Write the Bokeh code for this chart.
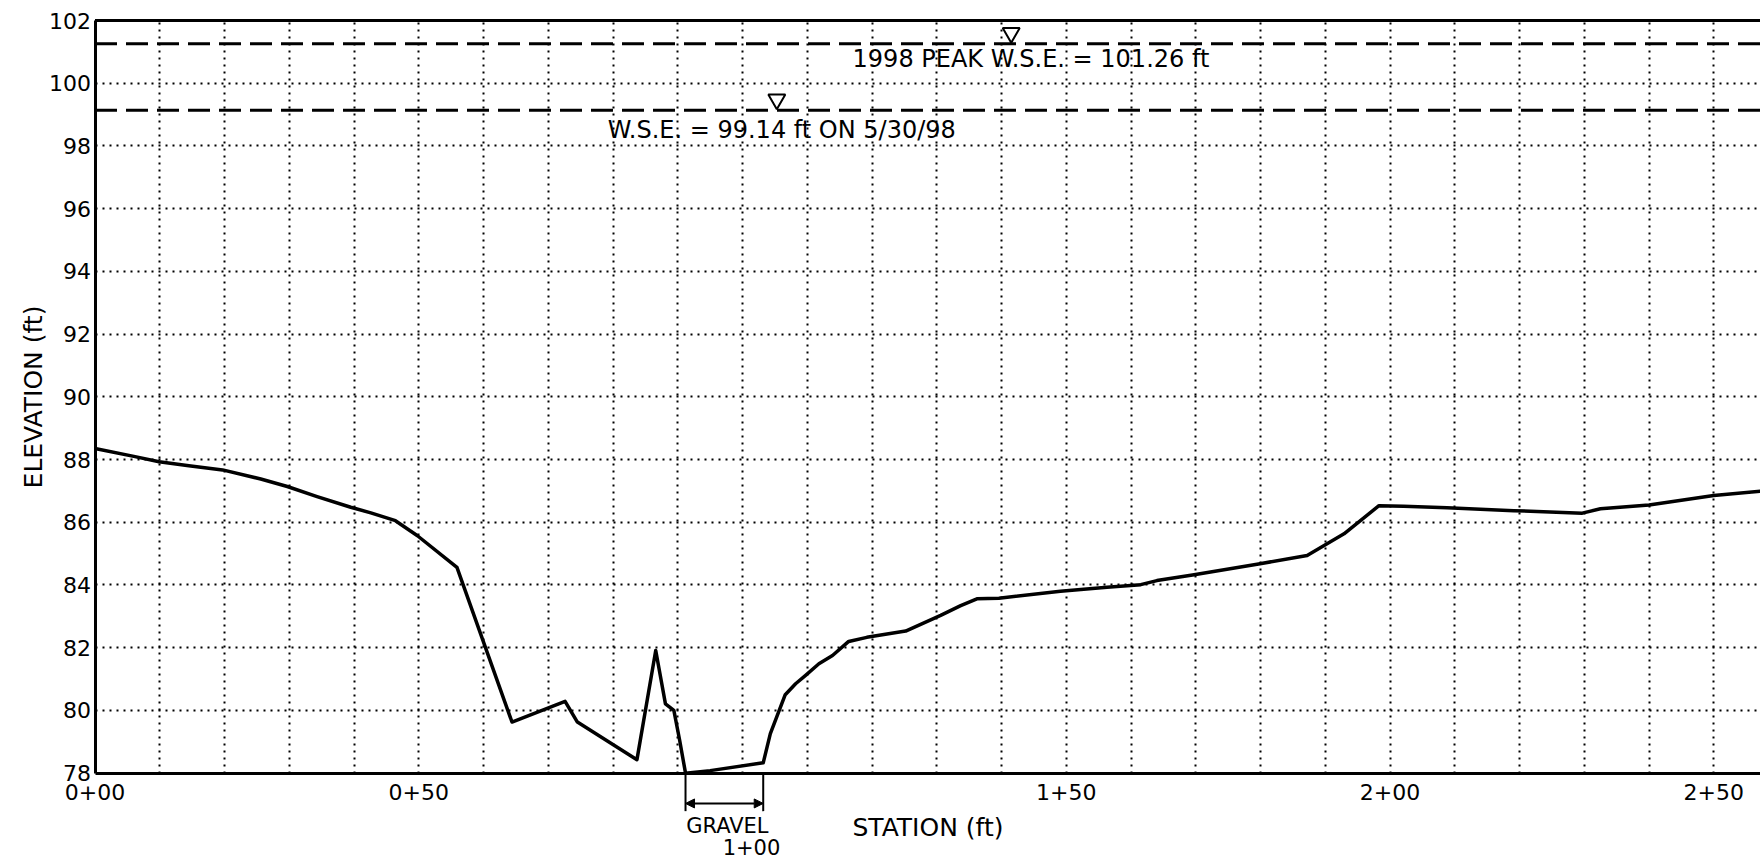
from bokeh.plotting import figure
from bokeh.models import Label, Arrow, NormalHead, FixedTicker, Range1d, BoxAnnotation
from bokeh.embed import file_html
from bokeh.resources import INLINE

# ---------------- data ----------------
station = [0, 6, 9.9, 14.5, 19.7, 25.6, 29.7, 34.3, 39.5, 42.6, 46.4, 49.8, 55.9,
           64.4, 72.6, 74.5, 83.7, 86.6, 88.1, 89.4, 90.3, 91.2, 95.0, 103.2,
           104.3, 106.6, 108.2, 109.7, 111.8, 113.9, 116.4, 119.2, 125.2, 130.6,
           133.7, 136.2, 139.6, 149.1, 156.3, 161.5, 164.0, 169.5, 179.7, 187.2,
           192.9, 198.3, 202.1, 208.8, 219.1, 229.7, 232.5, 240.0, 250.0, 257.2]
elevation = [88.35, 88.1, 87.93, 87.8, 87.67, 87.38, 87.14, 86.82, 86.48, 86.3, 86.05, 85.57, 84.56,
             79.63, 80.29, 79.63, 78.43, 81.91, 80.21, 80.0, 79.04, 78.0, 78.08, 78.33,
             79.26, 80.5, 80.85, 81.11, 81.49, 81.75, 82.2, 82.33, 82.53, 83.03,
             83.34, 83.56, 83.58, 83.8, 83.93, 84.01, 84.14, 84.32, 84.67, 84.94,
             85.63, 86.53, 86.51, 86.46, 86.37, 86.29, 86.43, 86.55, 86.85, 86.99]

wse_peak = 101.26
wse_obs = 99.14
peak_text = "1998 PEAK W.S.E. = 101.26 ft"
obs_text = "W.S.E. = 99.14 ft ON 5/30/98"
peak_marker_station = 141.5
obs_marker_station = 105.3
peak_text_station = 117.0
obs_text_station = 79.2

gravel_start = 91.2
gravel_end = 103.2
gravel_text = "GRAVEL"

x_ticks = [0, 50, 100, 150, 200, 250]
x_tick_labels = ["0+00", "0+50", "1+00", "1+50", "2+00", "2+50"]
x_grid = [10, 20, 30, 40, 50, 60, 70, 80, 90, 100, 110, 120, 130, 140, 150,
          160, 170, 180, 190, 200, 210, 220, 230, 240, 250]
y_ticks = [78, 80, 82, 84, 86, 88, 90, 92, 94, 96, 98, 100, 102]
y_grid = [80, 82, 84, 86, 88, 90, 92, 94, 96, 98, 100]

# ---------------- geometry ----------------
W, H = 1760, 860
AXIS_LEFT_PX = 94.5        # where station 0 sits
TOP_PX = 20                # where elevation 102 sits
PX_PER_FT_X = 6.475
PX_PER_FT_Y = 31.36
X_MIN, X_MAX = 0, (W - AXIS_LEFT_PX) / PX_PER_FT_X
Y_MIN, Y_MAX = 78, 102
X_VIEW_MIN = -AXIS_LEFT_PX / PX_PER_FT_X
Y_VIEW_MAX = Y_MAX + TOP_PX / PX_PER_FT_Y
Y_VIEW_MIN = Y_MAX - (H - TOP_PX) / PX_PER_FT_Y

FONT = "DejaVu Sans"

p = figure(width=W, height=H,
           x_range=Range1d(X_VIEW_MIN, X_MAX), y_range=Range1d(Y_VIEW_MIN, Y_VIEW_MAX),
           output_backend="svg", toolbar_location=None,
           min_border_left=0, min_border_right=0, min_border_top=0, min_border_bottom=0)
p.outline_line_color = None
p.background_fill_color = "white"
p.border_fill_color = "white"

# axes (placed at station 0 / elevation 78 so the texts around them are not clipped)
p.xaxis.fixed_location = Y_MIN
p.xaxis.bounds = (X_MIN, X_MAX)
p.xaxis.ticker = FixedTicker(ticks=x_ticks)
overrides = {t: l for t, l in zip(x_ticks, x_tick_labels)}
overrides[100] = ""
p.xaxis.major_label_overrides = overrides
p.yaxis.fixed_location = X_MIN
p.yaxis.bounds = (Y_MIN, Y_MAX)
p.yaxis.ticker = FixedTicker(ticks=y_ticks)

for ax in (p.xaxis[0], p.yaxis[0]):
    ax.axis_line_width = 3
    ax.axis_line_color = "black"
    ax.major_tick_in = 0
    ax.major_tick_out = 0
    ax.minor_tick_in = 0
    ax.minor_tick_out = 0
    ax.major_label_text_font = FONT
    ax.major_label_text_font_size = "22px"
    ax.major_label_text_color = "black"
    ax.axis_label_text_font = FONT
    ax.axis_label_text_font_size = "25px"
    ax.axis_label_text_font_style = "normal"
    ax.axis_label_text_color = "black"

p.xaxis.axis_label = "STATION (ft)"
p.yaxis.axis_label = "ELEVATION (ft)"
p.xaxis.major_label_standoff = 11
p.xaxis.axis_label_standoff = 9
p.yaxis.major_label_standoff = 4
p.yaxis.axis_label_standoff = -1

# grids
p.xgrid.ticker = FixedTicker(ticks=x_grid)
p.ygrid.ticker = FixedTicker(ticks=y_grid)
for g in (p.xgrid[0], p.ygrid[0]):
    g.grid_line_color = "black"
    g.grid_line_alpha = 1.0
    g.grid_line_width = 2
    g.grid_line_dash = "2 5"
if "cross_bounds" in p.xgrid[0].properties():
    p.xgrid[0].cross_bounds = (Y_MIN, Y_MAX)
    p.ygrid[0].cross_bounds = (X_MIN, X_MAX)
else:
    p.add_layout(BoxAnnotation(top=Y_MIN, fill_color="white", fill_alpha=1.0,
                               line_color=None, level="underlay"))
    p.add_layout(BoxAnnotation(right=X_MIN, fill_color="white", fill_alpha=1.0,
                               line_color=None, level="underlay"))
    p.add_layout(BoxAnnotation(bottom=Y_MAX, fill_color="white", fill_alpha=1.0,
                               line_color=None, level="underlay"))

# top border of the chart area
p.segment(x0=[X_MIN], y0=[Y_MAX], x1=[X_MAX], y1=[Y_MAX], line_color="black", line_width=3)

# water surface lines
p.segment(x0=[X_MIN, X_MIN], y0=[wse_peak, wse_obs], x1=[X_MAX, X_MAX], y1=[wse_peak, wse_obs],
          line_color="black", line_width=3, line_dash="22 9")

# water surface symbols
tri_off = 10.8 / PX_PER_FT_Y
p.scatter(x=[peak_marker_station, obs_marker_station],
          y=[wse_peak + tri_off, wse_obs + tri_off],
          marker="inverted_triangle", size=17, fill_color="white",
          line_color="black", line_width=2)

p.add_layout(Label(x=peak_text_station, y=wse_peak, y_offset=-15, text=peak_text,
                   text_align="left", text_baseline="middle", text_font=FONT,
                   text_font_size="24px", text_color="black"))
p.add_layout(Label(x=obs_text_station, y=wse_obs, y_offset=-19.5, text=obs_text,
                   text_align="left", text_baseline="middle", text_font=FONT,
                   text_font_size="24px", text_color="black"))

# ground profile
p.line(station, elevation, line_width=3.5, line_color="black", line_join="round")

# gravel dimension annotation (below the axis)
ext_len = 38 / PX_PER_FT_Y
dim_y = Y_MIN - 30.3 / PX_PER_FT_Y
for gx in (gravel_start, gravel_end):
    p.add_layout(Arrow(end=None, x_start=gx, y_start=Y_MIN, x_end=gx, y_end=Y_MIN - ext_len,
                       line_width=2, line_color="black"))
p.add_layout(Arrow(start=NormalHead(size=9, fill_color="black", line_color="black"),
                   end=NormalHead(size=9, fill_color="black", line_color="black"),
                   x_start=gravel_start, y_start=dim_y, x_end=gravel_end, y_end=dim_y,
                   line_width=2, line_color="black"))
p.add_layout(Label(x=(gravel_start + gravel_end) / 2, y=Y_MIN, x_offset=3, y_offset=-53,
                   text=gravel_text, text_align="center", text_baseline="middle",
                   text_font=FONT, text_font_size="21px", text_color="black"))
p.add_layout(Label(x=100, y=Y_MIN, x_offset=9, y_offset=-73.5,
                   text=x_tick_labels[2], text_align="center", text_baseline="middle",
                   text_font=FONT, text_font_size="21px", text_color="black"))

open("out.html", "w").write(file_html(p, INLINE))
